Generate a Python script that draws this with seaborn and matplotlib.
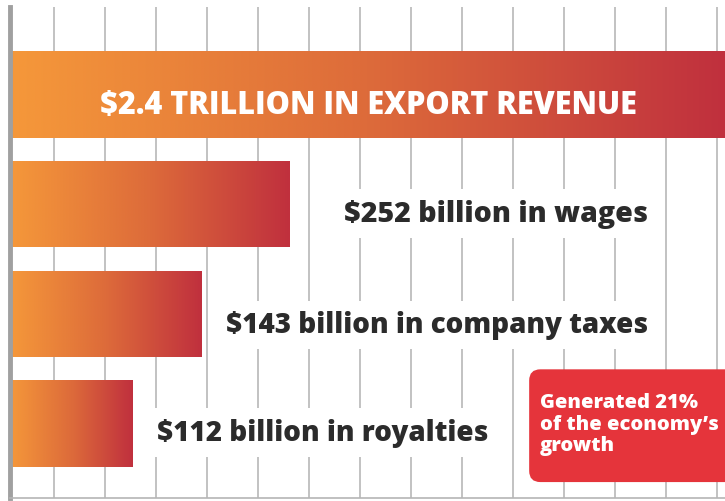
import numpy as np
import pandas as pd
import matplotlib
matplotlib.use('Agg')
import matplotlib.pyplot as plt
from matplotlib.colors import LinearSegmentedColormap
from matplotlib.patches import FancyBboxPatch
import seaborn as sns

# ================= data =================
labels = ['$2.4 TRILLION IN EXPORT REVENUE', '$252 billion in wages',
          '$143 billion in company taxes', '$112 billion in royalties']
# bar lengths as drawn (grid units, one unit per vertical grid line)
bar_lengths = [14.02, 5.49, 3.76, 2.41]
note_text = "Generated 21%\nof the economy\u2019s\ngrowth"

df = pd.DataFrame({'label': labels, 'length': bar_lengths})

sns.set_style('white')
plt.rcParams['font.family'] = ['Open Sans', 'DejaVu Sans']

fig = plt.figure(figsize=(7.25, 5.02), dpi=100)
ax = fig.add_axes([10 / 725, 3 / 502, 715 / 725, 491 / 502])

sns.barplot(data=df, x='length', y='label', orient='h', width=0.79,
            color='#E06A3A', ax=ax, zorder=2)

# gradient fill, orange -> red, clipped to each bar
cmap = LinearSegmentedColormap.from_list('heat', ['#F5983A', '#DD6B3A', '#C0303E'])
grad = np.linspace(0, 1, 256).reshape(1, -1)
for p in list(ax.patches):
    x0, y0, w, h = p.get_x(), p.get_y(), p.get_width(), p.get_height()
    im = ax.imshow(grad, extent=[x0, x0 + w, y0 + h, y0], aspect='auto',
                   cmap=cmap, zorder=2, interpolation='bicubic')
    im.set_clip_path(p)
    p.set_facecolor('none')
    p.set_edgecolor('none')

ax.set_xlim(0, 14.02)
ax.set_ylim(3.677, -0.795)

# vertical grid lines
ax.set_xticks(np.arange(0.863, 14.02, 1.0))
ax.grid(axis='x', color='#BDBDBD', lw=1.3)
ax.grid(axis='y', visible=False)
ax.set_axisbelow(True)
ax.tick_params(left=False, bottom=False, labelleft=False, labelbottom=False)
ax.set_xlabel('')
ax.set_ylabel('')
for s in ['top', 'right']:
    ax.spines[s].set_visible(False)
ax.spines['left'].set_color('#A0A0A0')
ax.spines['left'].set_linewidth(3.5)
ax.spines['bottom'].set_color('#B5B5B5')
ax.spines['bottom'].set_linewidth(1.2)

# labels
white_box = dict(facecolor='white', edgecolor='none', boxstyle='square,pad=0.35')
ax.text(7.02, 0.1, labels[0], color='white', fontsize=22, fontweight=800,
        ha='center', va='center', zorder=4)
ax.text(12.51, 1.09, labels[1], color='#2B2B2B', fontsize=20.5, fontweight=800,
        ha='right', va='center', zorder=4, bbox=white_box)
ax.text(12.51, 2.1, labels[2], color='#2B2B2B', fontsize=20, fontweight=800,
        ha='right', va='center', zorder=4, bbox=white_box)
ax.text(2.88, 3.08, labels[3], color='#2B2B2B', fontsize=20, fontweight=800,
        ha='left', va='center', zorder=4, bbox=white_box)

# red call-out box
box = FancyBboxPatch((10.18, 2.505), 5.0, 1.027,
                     boxstyle='round,pad=0,rounding_size=0.22',
                     mutation_aspect=51 / 110, facecolor='#E5343B',
                     edgecolor='none', zorder=5)
ax.add_patch(box)
ax.text(10.39, 3.0, note_text, color='white', fontsize=14.5, fontweight=800,
        ha='left', va='center', linespacing=1.12, zorder=6)

fig.savefig('out.png', dpi=100)
